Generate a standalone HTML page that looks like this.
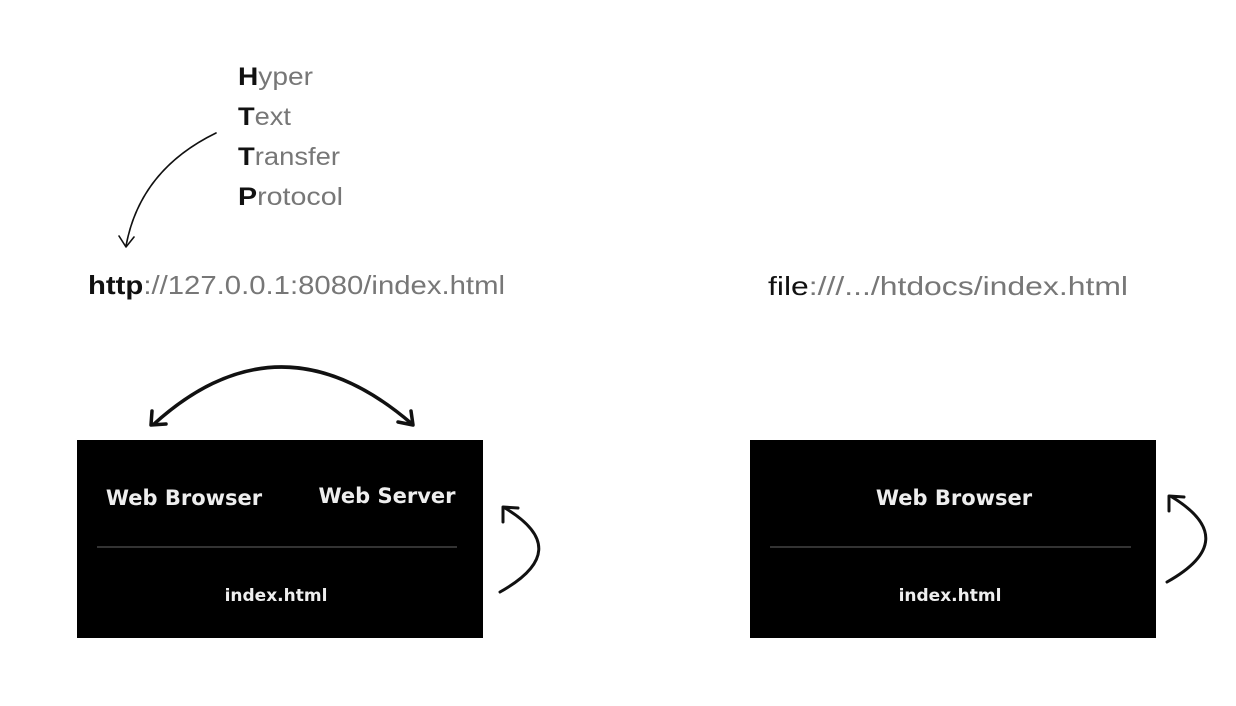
<!DOCTYPE html>
<html><head><meta charset="utf-8"><style>
html,body{margin:0;padding:0;background:#fff;width:1236px;height:706px;overflow:hidden}
svg{display:block}
</style></head><body>
<svg width="1236" height="706" viewBox="0 0 1236 706" xmlns="http://www.w3.org/2000/svg">
<g font-family="Liberation Sans, sans-serif" font-size="25" fill="#777">
<text x="238" y="85" textLength="75" lengthAdjust="spacingAndGlyphs"><tspan fill="#111" font-weight="bold">H</tspan>yper</text>
<text x="238" y="125" textLength="53" lengthAdjust="spacingAndGlyphs"><tspan fill="#111" font-weight="bold">T</tspan>ext</text>
<text x="238" y="165" textLength="102" lengthAdjust="spacingAndGlyphs"><tspan fill="#111" font-weight="bold">T</tspan>ransfer</text>
<text x="238" y="205" textLength="105" lengthAdjust="spacingAndGlyphs"><tspan fill="#111" font-weight="bold">P</tspan>rotocol</text>
<text x="88" y="294" font-size="26" textLength="417" lengthAdjust="spacingAndGlyphs"><tspan fill="#111" font-weight="bold">http</tspan>://127.0.0.1:8080/index.html</text>
<text x="768" y="295" font-size="26" textLength="360" lengthAdjust="spacingAndGlyphs"><tspan fill="#111">file</tspan>:///.../htdocs/index.html</text>
</g>
<g fill="none" stroke="#111" stroke-linecap="round" stroke-linejoin="round">
<path d="M216 133 Q140 170 126 246" stroke-width="1.6"/>
<path d="M119 236 L126 247 L134 237" stroke-width="1.6"/>
<path d="M154 424 Q280 310 412 424" stroke-width="3.5"/>
<path d="M152 411 L151 425 L166 424" stroke-width="3.5"/>
<path d="M398 422 L413 425 L411 411" stroke-width="3.5"/>
<path d="M500 592 Q575 550 505 508" stroke-width="3"/>
<path d="M503 522 L503 507 L518 508" stroke-width="3"/>
<path d="M1167 582 Q1242 540 1172 497" stroke-width="3"/>
<path d="M1169 511 L1169 496 L1184 497" stroke-width="3"/>
</g>
<rect x="77" y="440" width="406" height="198" fill="#000"/>
<rect x="750" y="440" width="406" height="198" fill="#000"/>
<line x1="97" y1="547" x2="457" y2="547" stroke="#666" stroke-width="1"/>
<line x1="770" y1="547" x2="1131" y2="547" stroke="#666" stroke-width="1"/>
<g font-family="DejaVu Sans, Liberation Sans, sans-serif" font-weight="bold" fill="#eee">
<text x="184" y="505" font-size="21" text-anchor="middle">Web Browser</text>
<text x="387" y="503" font-size="21" text-anchor="middle">Web Server</text>
<text x="276" y="601" font-size="17" text-anchor="middle">index.html</text>
<text x="954" y="505" font-size="21" text-anchor="middle">Web Browser</text>
<text x="950" y="601" font-size="17" text-anchor="middle">index.html</text>
</g>
</svg>
</body></html>
